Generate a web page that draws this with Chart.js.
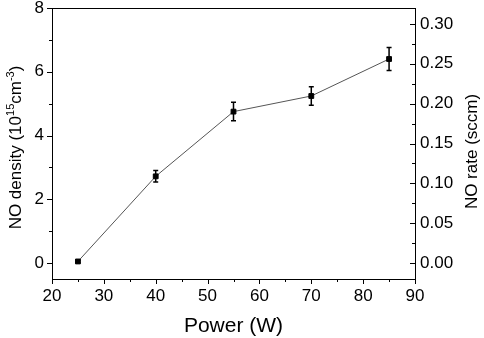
<!DOCTYPE html>
<html lang="en">
  <head>
    <meta charset="UTF-8" />
    <title>NO density vs power</title>
    <style>
      * {
        margin: 0;
        padding: 0;
        box-sizing: border-box;
      }
      body {
        background: #fff;
      }
      .chartBox {
        width: 484px;
        height: 338px;
      }
    </style>
  </head>
  <body>
    <div class="chartBox"><canvas id="myChart"></canvas></div>

    <script src="https://cdn.jsdelivr.net/npm/chart.js"></script>
    <script>
      const FONT = '"Liberation Sans", Arial, sans-serif';

      const power = [25, 40, 55, 70, 85];
      const density = [0.05, 2.72, 4.75, 5.24, 6.4];
      const densityErr = [0.04, 0.18, 0.29, 0.29, 0.36];

      const xTicks = [20, 30, 40, 50, 60, 70, 80, 90];
      const xMinor = [25, 35, 45, 55, 65, 75, 85];
      const yTicks = [0, 2, 4, 6, 8];
      const yMinor = [1, 3, 5, 7];
      const rateTicks = [0, 0.05, 0.1, 0.15, 0.2, 0.25, 0.3];
      const rateMinor = [0.025, 0.075, 0.125, 0.175, 0.225, 0.275];

      const data = {
        datasets: [
          {
            data: power.map((p, i) => ({ x: p, y: density[i] })),
            borderColor: "#555",
            borderWidth: 1,
            pointStyle: "rect",
            pointRadius: 3.4,
            pointBorderWidth: 1,
            pointBackgroundColor: "#000",
            pointBorderColor: "#000",
          },
        ],
      };

      // ticks, frame, error bars and axis titles
      const decor = {
        id: "decor",
        afterDatasetsDraw(chart) {
          const { ctx, scales: { x, y } } = chart;
          ctx.save();
          ctx.strokeStyle = "#000";
          ctx.lineWidth = 1.5;
          power.forEach((p, i) => {
            const px = x.getPixelForValue(p);
            const top = y.getPixelForValue(density[i] + densityErr[i]);
            const bot = y.getPixelForValue(density[i] - densityErr[i]);
            ctx.beginPath();
            ctx.moveTo(px, top);
            ctx.lineTo(px, bot);
            ctx.moveTo(px - 2.5, top);
            ctx.lineTo(px + 2.5, top);
            ctx.moveTo(px - 2.5, bot);
            ctx.lineTo(px + 2.5, bot);
            ctx.stroke();
          });
          ctx.restore();
        },
        afterDraw(chart) {
          const {
            ctx,
            chartArea: { top, bottom, left, right },
            scales: { x, y, y2 },
          } = chart;
          ctx.save();
          ctx.strokeStyle = "#000";
          ctx.lineWidth = 1;
          ctx.beginPath();
          ctx.moveTo(left, top + 0.5);
          ctx.lineTo(right, top + 0.5);

          function xTick(v, len) {
            const px = Math.round(x.getPixelForValue(v)) + 0.5;
            ctx.moveTo(px, bottom);
            ctx.lineTo(px, bottom + len);
          }
          function yTick(v, len) {
            const py = Math.round(y.getPixelForValue(v)) + 0.5;
            ctx.moveTo(left, py);
            ctx.lineTo(left - len, py);
          }
          function rTick(v, len) {
            const py = Math.round(y2.getPixelForValue(v)) + 0.5;
            ctx.moveTo(right, py);
            ctx.lineTo(right - len, py);
          }
          xTicks.forEach((v) => xTick(v, 5));
          xMinor.forEach((v) => xTick(v, 3));
          yTicks.forEach((v) => yTick(v, 5));
          yMinor.forEach((v) => yTick(v, 3));
          rateTicks.forEach((v) => rTick(v, 5));
          rateMinor.forEach((v) => rTick(v, 3));
          ctx.stroke();

          ctx.fillStyle = "#000";
          ctx.textBaseline = "alphabetic";

          // x title
          ctx.font = "21px " + FONT;
          ctx.textAlign = "center";
          ctx.fillText("Power (W)", (left + right) / 2, 332);

          // left title with superscripts
          const parts = [
            ["NO density (10", 17, 0],
            ["15", 11, -7],
            ["cm", 17, 0],
            ["-3", 11, -7],
            [")", 17, 0],
          ];
          let total = 0;
          parts.forEach((p) => {
            ctx.font = p[1] + "px " + FONT;
            total += ctx.measureText(p[0]).width;
          });
          ctx.save();
          ctx.translate(21, (top + bottom) / 2 + 4);
          ctx.rotate(-Math.PI / 2);
          ctx.textAlign = "left";
          let cx = -total / 2;
          parts.forEach((p) => {
            ctx.font = p[1] + "px " + FONT;
            ctx.fillText(p[0], cx, p[2]);
            cx += ctx.measureText(p[0]).width;
          });
          ctx.restore();

          // right title
          ctx.save();
          ctx.translate(477, (top + bottom) / 2 + 8);
          ctx.rotate(-Math.PI / 2);
          ctx.font = "17px " + FONT;
          ctx.textAlign = "center";
          ctx.fillText("NO rate (sccm)", 0, 0);
          ctx.restore();

          ctx.restore();
        },
      };

      const tickFont = { family: FONT, size: 17 };

      const config = {
        type: "line",
        data: data,
        options: {
          responsive: true,
          maintainAspectRatio: false,
          animation: false,
          layout: { padding: { top: 8, left: 0, right: 0, bottom: 0 } },
          plugins: {
            legend: { display: false },
            tooltip: { enabled: false },
          },
          scales: {
            x: {
              type: "linear",
              min: 20,
              max: 90,
              afterBuildTicks: (s) => {
                s.ticks = xTicks.map((v) => ({ value: v }));
              },
              afterFit: (s) => {
                s.height = 59;
                s.paddingLeft = 0;
                s.paddingRight = 0;
              },
              grid: { drawOnChartArea: false, drawTicks: false },
              border: { color: "#000", width: 1 },
              ticks: {
                color: "#000",
                font: tickFont,
                padding: 7,
                maxRotation: 0,
                autoSkip: false,
              },
            },
            y: {
              position: "left",
              min: -0.5,
              max: 8,
              afterBuildTicks: (s) => {
                s.ticks = yTicks.map((v) => ({ value: v }));
              },
              afterFit: (s) => {
                s.width = 52;
                s.paddingTop = 0;
                s.paddingBottom = 0;
              },
              grid: { drawOnChartArea: false, drawTicks: false },
              border: { color: "#000", width: 1 },
              ticks: { color: "#000", font: tickFont, padding: 8 },
            },
            y2: {
              position: "right",
              min: -0.02,
              max: 0.32,
              afterBuildTicks: (s) => {
                s.ticks = rateTicks.map((v) => ({ value: v }));
              },
              afterFit: (s) => {
                s.width = 69;
                s.paddingTop = 0;
                s.paddingBottom = 0;
              },
              grid: { drawOnChartArea: false, drawTicks: false },
              border: { color: "#000", width: 1 },
              ticks: {
                color: "#000",
                font: tickFont,
                padding: 5,
                callback: (v) => Number(v).toFixed(2),
              },
            },
          },
        },
        plugins: [decor],
      };

      const myChart = new Chart(document.getElementById("myChart"), config);
    </script>
  </body>
</html>
